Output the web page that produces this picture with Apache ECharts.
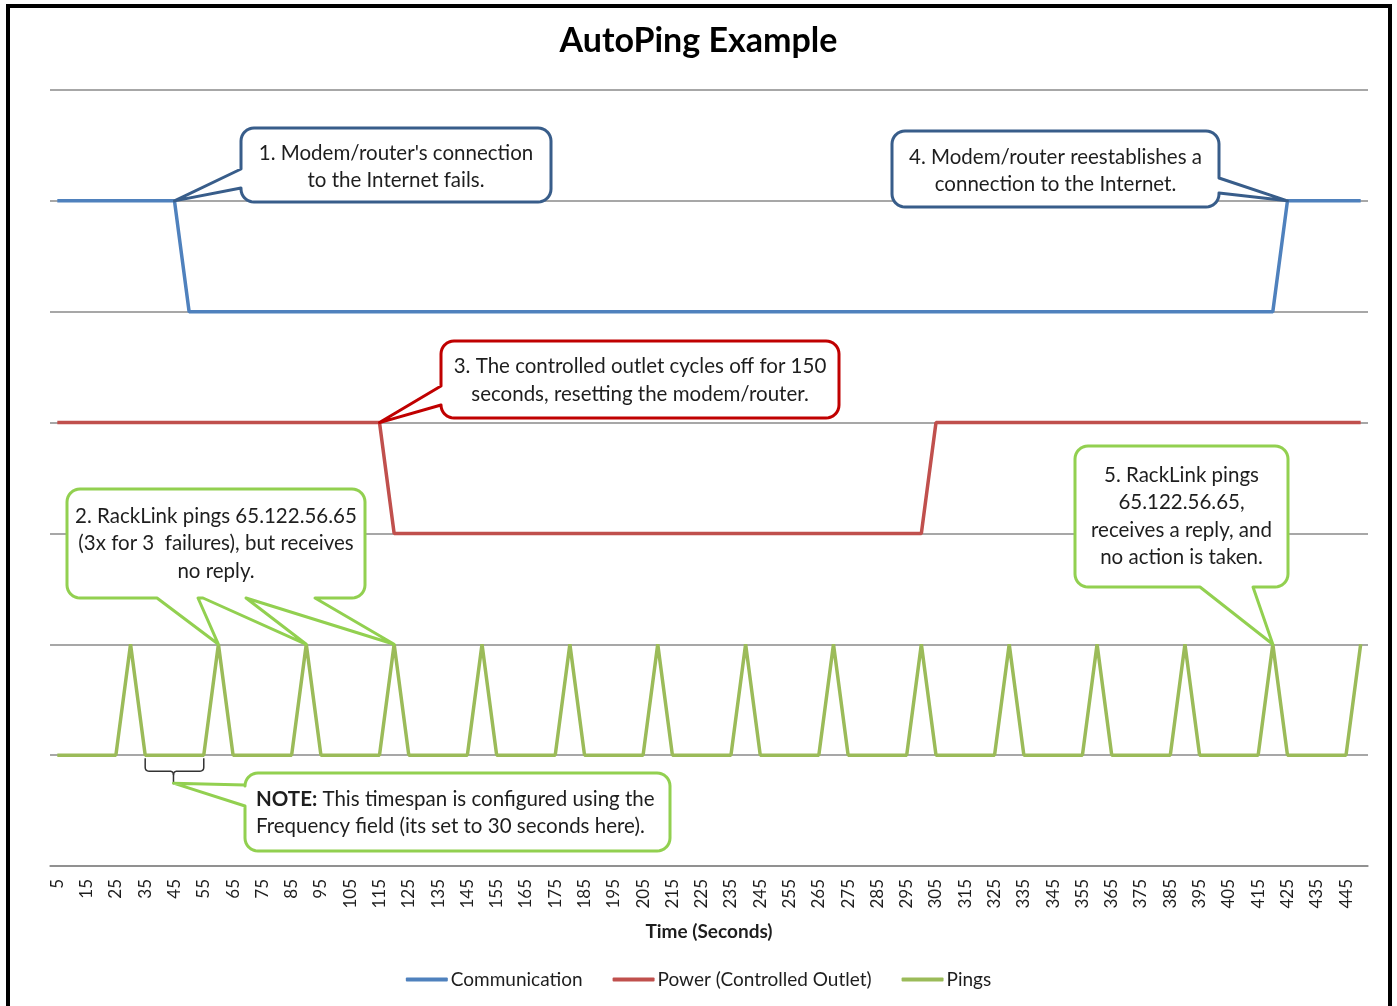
<!DOCTYPE html>
<html>
<head>
<meta charset="utf-8">
<title>AutoPing Example</title>
<script src="https://cdn.jsdelivr.net/npm/echarts@6/dist/echarts.min.js"></script>
<style>
  html, body { margin: 0; padding: 0; background: #fff; }
  #chart { width: 1397px; height: 1006px; }
</style>
</head>
<body>
<div id="chart"></div>
<script>
// time in seconds, one row = 30 s (one ping cycle)
const times = [
  5, 10, 15, 20, 25, 30,
  35, 40, 45, 50, 55, 60,
  65, 70, 75, 80, 85, 90,
  95, 100, 105, 110, 115, 120,
  125, 130, 135, 140, 145, 150,
  155, 160, 165, 170, 175, 180,
  185, 190, 195, 200, 205, 210,
  215, 220, 225, 230, 235, 240,
  245, 250, 255, 260, 265, 270,
  275, 280, 285, 290, 295, 300,
  305, 310, 315, 320, 325, 330,
  335, 340, 345, 350, 355, 360,
  365, 370, 375, 380, 385, 390,
  395, 400, 405, 410, 415, 420,
  425, 430, 435, 440, 445, 450
]

const communication = [
  6, 6, 6, 6, 6, 6,
  6, 6, 6, 5, 5, 5,
  5, 5, 5, 5, 5, 5,
  5, 5, 5, 5, 5, 5,
  5, 5, 5, 5, 5, 5,
  5, 5, 5, 5, 5, 5,
  5, 5, 5, 5, 5, 5,
  5, 5, 5, 5, 5, 5,
  5, 5, 5, 5, 5, 5,
  5, 5, 5, 5, 5, 5,
  5, 5, 5, 5, 5, 5,
  5, 5, 5, 5, 5, 5,
  5, 5, 5, 5, 5, 5,
  5, 5, 5, 5, 5, 5,
  6, 6, 6, 6, 6, 6
]

const power = [
  4, 4, 4, 4, 4, 4,
  4, 4, 4, 4, 4, 4,
  4, 4, 4, 4, 4, 4,
  4, 4, 4, 4, 4, 3,
  3, 3, 3, 3, 3, 3,
  3, 3, 3, 3, 3, 3,
  3, 3, 3, 3, 3, 3,
  3, 3, 3, 3, 3, 3,
  3, 3, 3, 3, 3, 3,
  3, 3, 3, 3, 3, 3,
  4, 4, 4, 4, 4, 4,
  4, 4, 4, 4, 4, 4,
  4, 4, 4, 4, 4, 4,
  4, 4, 4, 4, 4, 4,
  4, 4, 4, 4, 4, 4
]

const pings = [
  1, 1, 1, 1, 1, 2,
  1, 1, 1, 1, 1, 2,
  1, 1, 1, 1, 1, 2,
  1, 1, 1, 1, 1, 2,
  1, 1, 1, 1, 1, 2,
  1, 1, 1, 1, 1, 2,
  1, 1, 1, 1, 1, 2,
  1, 1, 1, 1, 1, 2,
  1, 1, 1, 1, 1, 2,
  1, 1, 1, 1, 1, 2,
  1, 1, 1, 1, 1, 2,
  1, 1, 1, 1, 1, 2,
  1, 1, 1, 1, 1, 2,
  1, 1, 1, 1, 1, 2,
  1, 1, 1, 1, 1, 2
]

const seriesNames = ['Communication', 'Power (Controlled Outlet)', 'Pings']
const seriesColors = ['#4F81BD', '#C0504D', '#9BBB59']

const FONT = 'Lato, "Open Sans", sans-serif'
const TEXT_COLOR = '#1e1e1e'
const NOTE_SIZE = 20.5

// callout boxes: [x, y, w, h] in px, tails point at [time, value]
const callouts = [
  {
    box: [241, 128, 310, 74], color: '#385D8A', dy: 2,
    lines: ["1. Modem/router's connection", 'to the Internet fails.'],
    tails: [{ edge: 'left', base: [169, 188], tip: [45, 6] }]
  },
  {
    box: [892, 131, 327, 76], color: '#385D8A', dy: 2,
    lines: ['4. Modem/router reestablishes a', 'connection to the Internet.'],
    tails: [{ edge: 'right', base: [178, 193], tip: [425, 6] }]
  },
  {
    box: [441, 341, 398, 77], color: '#C00000', dy: 1,
    lines: ['3. The controlled outlet cycles off for 150', 'seconds, resetting the modem/router.'],
    tails: [{ edge: 'left', base: [386, 405], tip: [115, 4] }]
  },
  {
    box: [67, 489, 298, 109], color: '#92D050', dy: 0,
    lines: ['2. RackLink pings 65.122.56.65', '(3x for 3  failures), but receives', 'no reply.'],
    tails: [
      { edge: 'bottom', base: [157, 198], tip: [60, 2] },
      { edge: 'bottom', base: [203, 246], tip: [90, 2] },
      { edge: 'bottom', base: [246, 315], tip: [120, 2] }
    ]
  },
  {
    box: [1075, 446, 213, 141], color: '#92D050', dy: 0,
    lines: ['5. RackLink pings', '65.122.56.65,', 'receives a reply, and', 'no action is taken.'],
    tails: [{ edge: 'bottom', base: [1200, 1253], tip: [420, 2] }]
  }
]

const chart = echarts.init(document.getElementById('chart'))

chart.setOption({
  backgroundColor: '#fff',
  animation: false,
  title: {
    text: 'AutoPing Example',
    left: 'center',
    top: 19,
    textStyle: { fontFamily: FONT, fontSize: 34, fontWeight: 'bold', color: '#000' }
  },
  legend: {
    bottom: 12,
    left: 'center',
    itemWidth: 42,
    itemHeight: 4,
    itemGap: 30,
    icon: 'roundRect',
    textStyle: { fontFamily: FONT, fontSize: 19, color: TEXT_COLOR, padding: [0, 0, 0, -2] },
    data: seriesNames
  },
  grid: { left: 50, right: 29, top: 90, bottom: 140 },
  xAxis: {
    type: 'category',
    data: times,
    boundaryGap: true,
    name: 'Time (Seconds)',
    nameLocation: 'middle',
    nameGap: 56,
    nameTextStyle: { fontFamily: FONT, fontSize: 19, fontWeight: 'bold', color: TEXT_COLOR },
    axisLine: { lineStyle: { color: '#8a8a8a', width: 1.5 } },
    axisTick: { show: false },
    axisLabel: {
      interval: 1,
      rotate: 90,
      margin: 13,
      fontFamily: FONT,
      fontSize: 17,
      color: TEXT_COLOR
    }
  },
  yAxis: {
    type: 'value',
    min: 0,
    max: 7,
    interval: 1,
    axisLine: { show: false },
    axisTick: { show: false },
    axisLabel: { show: false },
    splitLine: { lineStyle: { color: '#8a8a8a', width: 1.5 } }
  },
  series: [communication, power, pings].map((d, i) => ({
    name: seriesNames[i],
    type: 'line',
    data: d,
    symbol: 'none',
    color: seriesColors[i],
    lineStyle: { width: 3.5, color: seriesColors[i] },
    z: 3
  }))
})

function px(time, value) {
  return chart.convertToPixel({ xAxisIndex: 0, yAxisIndex: 0 }, [times.indexOf(time), value])
}

// quarter-circle corner points around centre (cx, cy) from angle a0 to a1
function arc(cx, cy, r, a0, a1) {
  const pts = []
  for (let i = 0; i <= 8; i++) {
    const a = a0 + (a1 - a0) * i / 8
    pts.push([cx + r * Math.cos(a), cy + r * Math.sin(a)])
  }
  return pts
}

// rounded box with wedge tails, clockwise outline (screen coords, y down)
function calloutPoints(box, r, tails) {
  const [x, y, w, h] = box
  const P = Math.PI
  const right = tails.filter(t => t.edge === 'right').sort((a, b) => a.base[0] - b.base[0])
  const bottom = tails.filter(t => t.edge === 'bottom').sort((a, b) => b.base[0] - a.base[0])
  const left = tails.filter(t => t.edge === 'left').sort((a, b) => b.base[0] - a.base[0])
  let pts = []
  pts = pts.concat(arc(x + w - r, y + r, r, -P / 2, 0))
  right.forEach(t => { pts.push([x + w, t.base[0]], t.p, [x + w, t.base[1]]) })
  pts = pts.concat(arc(x + w - r, y + h - r, r, 0, P / 2))
  bottom.forEach(t => { pts.push([t.base[1], y + h], t.p, [t.base[0], y + h]) })
  pts = pts.concat(arc(x + r, y + h - r, r, P / 2, P))
  left.forEach(t => { pts.push([x, t.base[1]], t.p, [x, t.base[0]]) })
  pts = pts.concat(arc(x + r, y + r, r, P, P * 1.5))
  return pts
}

function quad(p0, c, p1) {
  const pts = []
  for (let i = 0; i <= 6; i++) {
    const s = i / 6
    pts.push([
      (1 - s) * (1 - s) * p0[0] + 2 * (1 - s) * s * c[0] + s * s * p1[0],
      (1 - s) * (1 - s) * p0[1] + 2 * (1 - s) * s * c[1] + s * s * p1[1]
    ])
  }
  return pts
}

function buildGraphics() {
  const g = []
  // outer frame
  g.push({
    type: 'rect', z: 200, silent: true,
    shape: { x: 8, y: 6, width: 1382, height: 1010 },
    style: { fill: 'none', stroke: '#000', lineWidth: 4 }
  })

  callouts.forEach(c => {
    c.tails.forEach(t => { t.p = px(t.tip[0], t.tip[1]) })
    g.push({
      type: 'polygon', z: 100, silent: true,
      shape: { points: calloutPoints(c.box, 13, c.tails) },
      style: { fill: '#fff', stroke: c.color, lineWidth: 3, lineJoin: 'round' }
    })
    g.push({
      type: 'text', z: 101, silent: true,
      x: c.box[0] + c.box[2] / 2,
      y: c.box[1] + c.box[3] / 2 + c.dy,
      style: {
        text: c.lines.join('\n'),
        font: NOTE_SIZE + 'px ' + FONT,
        lineHeight: 27.5,
        fill: TEXT_COLOR, align: 'center', verticalAlign: 'middle'
      }
    })
  })

  // brace under the baseline between two pings
  const a = px(35, 1)
  const b = px(55, 1)
  const m = px(45, 1)
  const yb = a[1] + 3
  const xm = m[0] - 1
  const leftHalf = [[a[0], yb], [a[0], yb + 9]]
    .concat(quad([a[0], yb + 9], [a[0], yb + 13], [a[0] + 4, yb + 13]))
    .concat(quad([xm - 4, yb + 13], [xm, yb + 13], [xm, yb + 17]))
    .concat([[xm, yb + 26]])
  const rightHalf = quad([xm, yb + 17], [xm, yb + 13], [xm + 4, yb + 13])
    .concat(quad([b[0] - 4, yb + 13], [b[0], yb + 13], [b[0], yb + 9]))
    .concat([[b[0], yb]])
  ;[leftHalf, rightHalf].forEach(pts => {
    g.push({
      type: 'polyline', z: 100, silent: true,
      shape: { points: pts },
      style: { fill: null, stroke: '#333', lineWidth: 1.5 }
    })
  })

  const noteBox = [245, 773, 425, 78]
  const noteTail = [{ edge: 'left', base: [785, 806], p: [xm, yb + 25] }]
  g.push({
    type: 'polygon', z: 100, silent: true,
    shape: { points: calloutPoints(noteBox, 13, noteTail) },
    style: { fill: '#fff', stroke: '#92D050', lineWidth: 3, lineJoin: 'round' }
  })
  g.push({
    type: 'text', z: 101, silent: true,
    x: noteBox[0] + 11,
    y: noteBox[1] + noteBox[3] / 2 + 1,
    style: {
      text: '{b|NOTE:} This timespan is configured using the\nFrequency field (its set to 30 seconds here).',
      rich: { b: { fontWeight: 'bold', fontFamily: FONT, fontSize: NOTE_SIZE, fill: TEXT_COLOR } },
      font: NOTE_SIZE + 'px ' + FONT,
      lineHeight: 27.5,
      fill: TEXT_COLOR, align: 'left', verticalAlign: 'middle'
    }
  })
  return g
}

chart.setOption({ graphic: buildGraphics() })
</script>
</body>
</html>
